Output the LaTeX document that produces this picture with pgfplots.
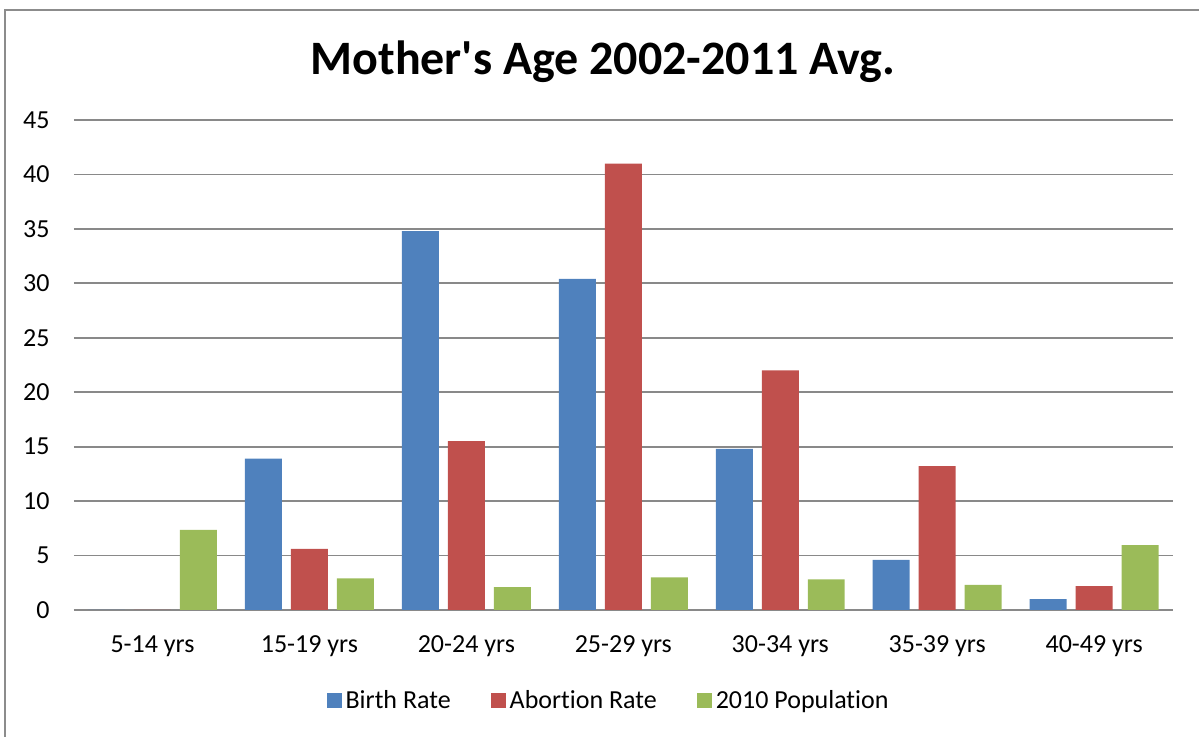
\documentclass[border=0pt]{standalone}
\usepackage{pgfplots}
\pgfplotsset{compat=1.18}
\usepackage{fontspec}
\setmainfont{Carlito}[Ligatures=NoCommon]
\definecolor{cblue}{HTML}{4F81BD}
\definecolor{cred}{HTML}{C0504D}
\definecolor{cgreen}{HTML}{9BBB59}
\definecolor{gridc}{HTML}{898989}
\definecolor{framec}{HTML}{8C8C8C}
\begin{document}
\begin{tikzpicture}
\begin{axis}[
  scale only axis,
  width=549.35pt, height=245pt,
  ybar=4.5pt, bar width=18.5pt,
  xmin=-0.5, xmax=6.5, ymin=0, ymax=45,
  xtick={0,...,6},
  xticklabels={5-14 yrs,15-19 yrs,20-24 yrs,25-29 yrs,30-34 yrs,35-39 yrs,40-49 yrs},
  ytick={0,5,...,45},
  major tick length=0pt,
  axis x line*=bottom,
  axis y line*=left,
  x axis line style={draw=gridc, line width=0.9pt, -},
  y axis line style={draw=none},
  ymajorgrids, major grid style={draw=gridc, line width=0.9pt},
  ticklabel style={font=\fontsize{13}{15}\selectfont},
  /pgf/number format/assume math mode=true,
  xticklabel style={anchor=base, yshift=-21.5pt},
  yticklabel style={anchor=east, xshift=-8.7pt},
  legend style={draw=none, at={(rel axis cs:0.4875,-0.1857)}, anchor=center,
    legend columns=-1, font=\fontsize{13}{15}\selectfont,
    /tikz/every even column/.append style={column sep=18pt}},
  legend image code/.code={\fill[#1] (0pt,-3.75pt) rectangle (7.5pt,3.75pt);},
  clip=false,
]
\addplot[fill=cblue, draw=none] coordinates {(0,0) (1,13.9) (2,34.8) (3,30.4) (4,14.8) (5,4.6) (6,1.0)};
\addplot[fill=cred, draw=none] coordinates {(0,0) (1,5.6) (2,15.5) (3,41.0) (4,22.0) (5,13.2) (6,2.2)};
\addplot[fill=cgreen, draw=none] coordinates {(0,7.35) (1,2.9) (2,2.1) (3,3.0) (4,2.8) (5,2.3) (6,5.95)};
\legend{Birth Rate, Abortion Rate, 2010 Population}
\coordinate (ll) at (rel axis cs:0,0);
\coordinate (ur) at (rel axis cs:1,1);
\node[font=\fontsize{24}{28}\selectfont\bfseries] at ([xshift=264.5pt,yshift=29pt]ll|-ur) {Mother\textquotesingle s Age 2002-2011 Avg.};
\end{axis}
\useasboundingbox ([shift={(-37pt,-63.5pt)}]ll) rectangle ([shift={(13.2pt,60pt)}]ur);
\draw[framec, line width=1pt] ([shift={(-34.5pt,-63.5pt)}]ll) -- ([shift={(-34.5pt,55pt)}]ll|-ur) -- ([shift={(13.2pt,55pt)}]ur);
\end{tikzpicture}
\end{document}
